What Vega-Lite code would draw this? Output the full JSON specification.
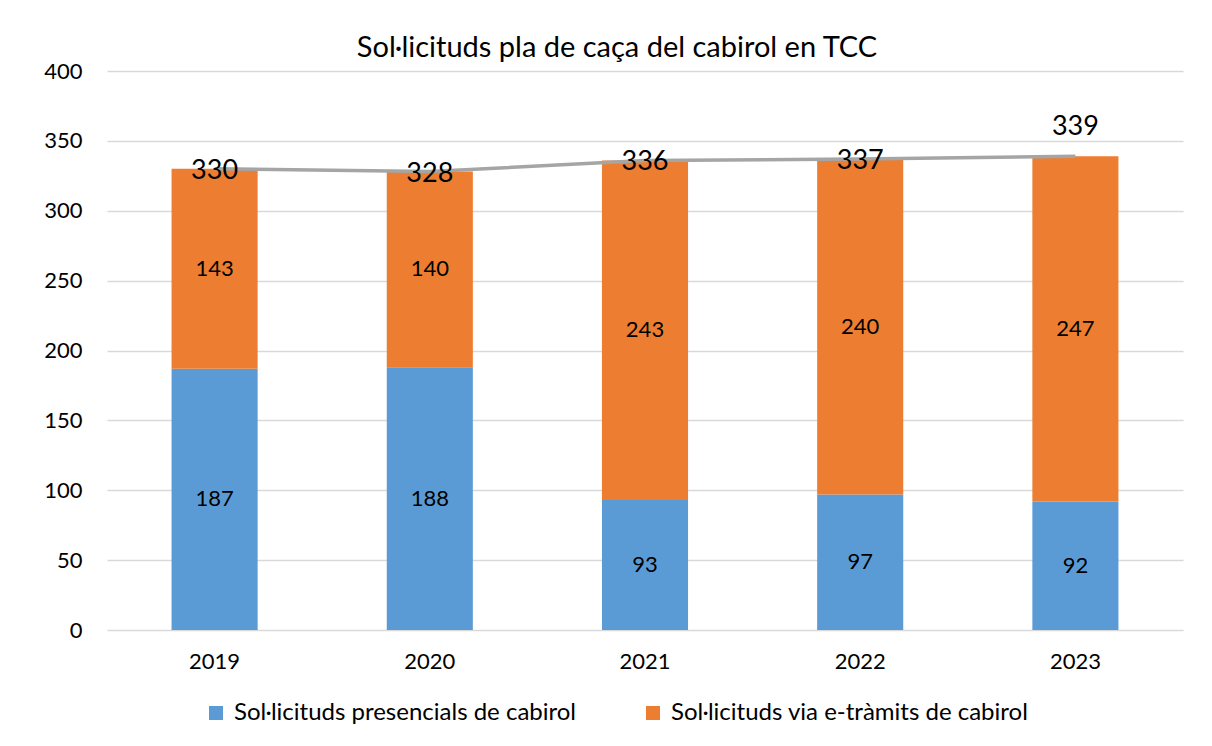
{
  "$schema": "https://vega.github.io/schema/vega-lite/v6.json",
  "width": 1076,
  "height": 559,
  "autosize": {"type": "none"},
  "padding": {"left": 107, "top": 71, "right": 29, "bottom": 116},
  "background": "white",
  "title": {
    "text": "Sol·licituds pla de caça del cabirol en TCC",
    "fontSize": 29,
    "font": "Lato",
    "fontWeight": "normal",
    "color": "#000000",
    "anchor": "middle",
    "dx": -28,
    "offset": -3
  },
  "data": {
    "values": [
      {"any": "2019", "tipus": "Sol·licituds presencials de cabirol", "valor": 187},
      {"any": "2019", "tipus": "Sol·licituds via e-tràmits de cabirol", "valor": 143},
      {"any": "2020", "tipus": "Sol·licituds presencials de cabirol", "valor": 188},
      {"any": "2020", "tipus": "Sol·licituds via e-tràmits de cabirol", "valor": 140},
      {"any": "2021", "tipus": "Sol·licituds presencials de cabirol", "valor": 93},
      {"any": "2021", "tipus": "Sol·licituds via e-tràmits de cabirol", "valor": 243},
      {"any": "2022", "tipus": "Sol·licituds presencials de cabirol", "valor": 97},
      {"any": "2022", "tipus": "Sol·licituds via e-tràmits de cabirol", "valor": 240},
      {"any": "2023", "tipus": "Sol·licituds presencials de cabirol", "valor": 92},
      {"any": "2023", "tipus": "Sol·licituds via e-tràmits de cabirol", "valor": 247}
    ]
  },
  "encoding": {
    "x": {
      "field": "any",
      "type": "ordinal",
      "scale": {"paddingInner": 0.6, "paddingOuter": 0.3},
      "axis": {
        "title": null,
        "labelAngle": 0,
        "labelFontSize": 22,
        "labelFont": "Lato",
        "labelColor": "#000000",
        "labelPadding": 21,
        "ticks": false,
        "domain": false
      }
    }
  },
  "layer": [
    {
      "mark": {"type": "bar"},
      "encoding": {
        "y": {
          "field": "valor",
          "type": "quantitative",
          "aggregate": "sum",
          "stack": "zero",
          "scale": {"domain": [0, 400]},
          "axis": {
            "title": null,
            "values": [0, 50, 100, 150, 200, 250, 300, 350, 400],
            "labelFontSize": 22,
            "labelFont": "Lato",
            "labelColor": "#000000",
            "labelPadding": 25,
            "ticks": false,
            "domain": false,
            "grid": true,
            "gridColor": "#D9D9D9",
            "gridWidth": 1.5
          }
        },
        "color": {
          "field": "tipus",
          "type": "nominal",
          "scale": {
            "domain": ["Sol·licituds presencials de cabirol", "Sol·licituds via e-tràmits de cabirol"],
            "range": ["#5B9BD5", "#ED7D31"]
          },
          "legend": {
            "title": null,
            "orient": "none",
            "legendX": 97,
            "legendY": 630,
            "direction": "horizontal",
            "symbolType": "square",
            "symbolSize": 196,
            "symbolStrokeWidth": 0,
            "labelFontSize": 24,
            "labelFont": "Lato",
            "labelColor": "#000000",
            "labelOffset": 6,
            "labelLimit": 500,
            "columnPadding": 64
          }
        },
        "order": {"field": "tipus", "sort": "ascending"}
      }
    },
    {
      "transform": [
        {"stack": "valor", "groupby": ["any"], "sort": [{"field": "tipus", "order": "ascending"}], "as": ["v0", "v1"]},
        {"fold": ["v0", "v1"], "as": ["k", "pos"]},
        {"aggregate": [{"op": "mean", "field": "pos", "as": "mig"}], "groupby": ["any", "tipus", "valor"]}
      ],
      "mark": {"type": "text", "fontSize": 22, "font": "Lato", "color": "#000000", "baseline": "middle"},
      "encoding": {
        "y": {"field": "mig", "type": "quantitative"},
        "text": {"field": "valor", "type": "quantitative"}
      }
    },
    {
      "transform": [
        {"aggregate": [{"op": "sum", "field": "valor", "as": "total"}], "groupby": ["any"]}
      ],
      "mark": {"type": "line", "color": "#A5A5A5", "strokeWidth": 3.5},
      "encoding": {
        "y": {"field": "total", "type": "quantitative"}
      }
    },
    {
      "transform": [
        {"aggregate": [{"op": "sum", "field": "valor", "as": "total"}], "groupby": ["any"]},
        {"filter": "datum.any != '2023'"}
      ],
      "mark": {"type": "text", "fontSize": 27, "font": "Lato", "color": "#000000", "baseline": "middle", "dy": 2},
      "encoding": {
        "y": {"field": "total", "type": "quantitative"},
        "text": {"field": "total", "type": "quantitative"}
      }
    },
    {
      "transform": [
        {"aggregate": [{"op": "sum", "field": "valor", "as": "total"}], "groupby": ["any"]},
        {"filter": "datum.any == '2023'"}
      ],
      "mark": {"type": "text", "fontSize": 27, "font": "Lato", "color": "#000000", "baseline": "middle", "dy": -29},
      "encoding": {
        "y": {"field": "total", "type": "quantitative"},
        "text": {"field": "total", "type": "quantitative"}
      }
    }
  ],
  "config": {
    "view": {"stroke": null}
  }
}
